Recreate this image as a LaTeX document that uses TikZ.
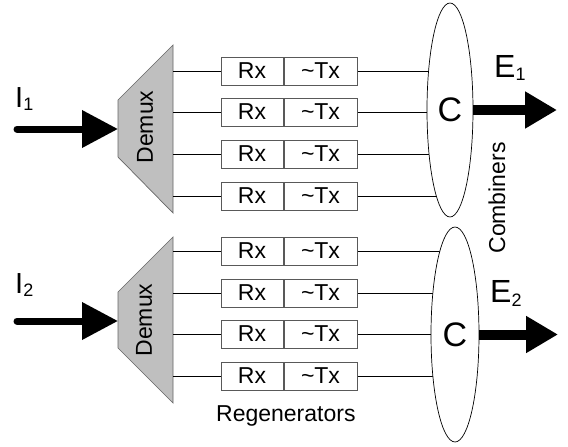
\documentclass[tikz,border=0pt]{standalone}
\usepackage{fontspec}
\setmainfont{Liberation Sans}
\usetikzlibrary{shapes.geometric,arrows.meta,backgrounds}
\begin{document}
\begin{tikzpicture}[x=1pt,y=-1pt,
  lbl/.style={font=\fontsize{23}{27}\selectfont, inner sep=0pt},
  rxbox/.style={draw=black!65, line width=0.7pt, fill=white, minimum height=28pt, inner sep=0pt, font=\fontsize{23}{27}\selectfont},
  wire/.style={line width=0.6pt},
  comb/.style={ellipse, draw, line width=0.7pt, fill=white, inner sep=0pt, font=\fontsize{34}{34}\selectfont},
  demux/.style={fill=black!25, draw=black!60, line width=0.7pt},
  inarrow/.style={line width=7pt, line cap=round, -{Triangle[length=36pt,width=36pt]}},
  outarrow/.style={line width=10pt, -{Triangle[length=32pt,width=35pt]}},
  biglbl/.style={anchor=base west, inner sep=0pt},
]
\useasboundingbox (0,0) rectangle (568,447);

% combiners
\node[comb, minimum width=46pt, minimum height=214pt] (C1) at (450,110) {C};
\node[comb, minimum width=48pt, minimum height=215pt] (C2) at (455,334.5) {C};

% demux shapes
\coordinate (d1a) at (173,45); \coordinate (d1b) at (173,213);
\coordinate (d1c) at (118,157); \coordinate (d1d) at (118,100);
\draw[demux] (d1a) -- (d1b) -- (d1c) -- (d1d) -- cycle;
\node[lbl, rotate=90] (dm1) at (145,127) {Demux};

\coordinate (d2a) at (173,237); \coordinate (d2b) at (173,403);
\coordinate (d2c) at (118,348); \coordinate (d2d) at (118,292);
\draw[demux] (d2a) -- (d2b) -- (d2c) -- (d2d) -- cycle;
\node[lbl, rotate=90] (dm2) at (144,320) {Demux};

% regenerators, top group
\foreach \y [count=\i] in {71,112,154,196} {
  \node[rxbox, minimum width=62pt] (rxa\i) at (252,\y) {Rx};
  \node[rxbox, minimum width=73pt] (txa\i) at (320.5,\y) {\textasciitilde Tx};
  \coordinate (da\i) at (173,\y);
  \draw[wire] (da\i) -- (rxa\i.west);
  \begin{pgfonlayer}{background}
    \draw[wire] (txa\i.east) -- (txa\i.east -| C1.center);
  \end{pgfonlayer}
}
% regenerators, bottom group
\foreach \y [count=\i] in {251,293,334,376} {
  \node[rxbox, minimum width=62pt] (rxb\i) at (252,\y) {Rx};
  \node[rxbox, minimum width=73pt] (txb\i) at (320.5,\y) {\textasciitilde Tx};
  \coordinate (db\i) at (173,\y);
  \draw[wire] (db\i) -- (rxb\i.west);
  \begin{pgfonlayer}{background}
    \draw[wire] (txb\i.east) -- (txb\i.east -| C2.center);
  \end{pgfonlayer}
}

% input arrows
\coordinate (i1s) at (17,129); \coordinate (d1w) at (118,129);
\draw[inarrow] (i1s) -- (d1w);
\coordinate (i2s) at (17,321); \coordinate (d2w) at (118,321);
\draw[inarrow] (i2s) -- (d2w);

% output arrows
\coordinate (e1t) at (557,110);
\draw[outarrow] (C1.east) -- (e1t);
\coordinate (e2t) at (558,334.5);
\draw[outarrow] (C2.east) -- (e2t);

% labels
\node[biglbl, font=\fontsize{29}{29}\selectfont] (li1) at (15,107) {I\raisebox{-3pt}{\fontsize{18}{18}\selectfont 1}};
\node[biglbl, font=\fontsize{29}{29}\selectfont] (li2) at (15,293) {I\raisebox{-3pt}{\fontsize{18}{18}\selectfont 2}};
\node[biglbl, font=\fontsize{32}{32}\selectfont] (le1) at (494,77) {E\raisebox{-3.5pt}{\fontsize{18}{18}\selectfont 1}};
\node[biglbl, font=\fontsize{32}{32}\selectfont] (le2) at (490,302) {E\raisebox{-4.5pt}{\fontsize{18}{18}\selectfont 2}};

\node[lbl, rotate=90] (comb) at (497,198) {Combiners};
\node[lbl, anchor=base west] (regen) at (216,421) {Regenerators};
\end{tikzpicture}
\end{document}
